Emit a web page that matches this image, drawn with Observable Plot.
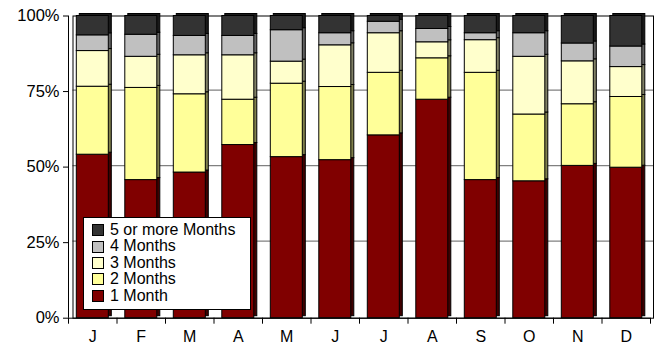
<!DOCTYPE html>
<html><head><meta charset="utf-8">
<script src="https://cdn.jsdelivr.net/npm/d3@7"></script>
<script src="https://cdn.jsdelivr.net/npm/@observablehq/plot@0.6"></script>
<style>
body{margin:0;background:#fff;}
#wrap{position:relative;width:660px;height:346px;font-family:"Liberation Sans",Arial,sans-serif;}
#legend{position:absolute;left:83px;top:217px;width:168px;height:93px;border:1px solid #000;background:#fff;padding:4px 0 0 8px;box-sizing:border-box;}
.item{display:flex;align-items:center;height:16.4px;line-height:16.4px;font-size:16px;color:#000;white-space:nowrap;}
.sw{width:10px;height:10px;border:1px solid #000;margin-right:6px;flex:none;}
</style>
</head><body>
<div id="wrap"></div>
<script>
const months = ["J","F","M","A","M","J","J","A","S","O","N","D"];
const seriesNames = ["1 Month","2 Months","3 Months","4 Months","5 or more Months"];
const oneMonth   = [54.1,45.7,48.2,57.3,53.3,52.3,60.5,72.3,45.7,45.3,50.4,49.8];
const twoMonths  = [22.5,30.5,25.9,15.0,24.3,24.2,20.7,13.7,35.5,22.1,20.4,23.4];
const threeMonths= [11.8,10.3,12.9,14.7, 7.3,13.8,13.1, 5.3,10.8,19.1,14.2, 9.9];
const fourMonths = [ 5.2, 7.3, 6.4, 6.4,10.4, 4.0, 3.8, 4.4, 2.3, 7.8, 5.9, 6.8];
const fivePlus   = [ 6.4, 6.2, 6.6, 6.6, 4.7, 5.7, 1.9, 4.3, 5.7, 5.7, 9.1,10.1];
const yTicks = [0,25,50,75,100];

const frontColors = ["#800000","#ffff99","#ffffcc","#c0c0c0","#333333"];
const sideColors  = ["#400000","#80804c","#808066","#606060","#1a1a1a"];

const allSeries = [oneMonth,twoMonths,threeMonths,fourMonths,fivePlus];
const rows = [];
months.forEach((m,i)=>{
  let acc = 0;
  allSeries.forEach((s,k)=>{
    rows.push({i, month:m, series:seriesNames[k], k, y1:acc, y2:acc+s[i]});
    acc += s[i];
  });
});
const idx = d3.range(13);

const chart = Plot.plot({
  width:660, height:346,
  marginTop:15.5, marginBottom:28.3, marginLeft:68, marginRight:10,
  style:{fontFamily:'"Liberation Sans",Arial,sans-serif', fontSize:"16px", color:"#000", background:"#fff"},
  x:{type:"linear", domain:[0,12], axis:null, label:null},
  y:{domain:[0,100], axis:null, label:null},
  marks:[
    Plot.ruleY([25,50,75], {stroke:"#808080", strokeWidth:1.2, dy:-1.5, insetLeft:4.5, insetRight:-3}),
    Plot.frame({stroke:"#000", insetLeft:4.5, insetRight:-3}),
    Plot.rect(rows, {x1:"i", x2:d=>d.i+1, y1:"y1", y2:"y2", fill:d=>sideColors[d.k], stroke:"#000", strokeWidth:1, insetLeft:8.3, insetRight:8.2, dx:3, dy:-2}),
    Plot.rect(rows, {x1:"i", x2:d=>d.i+1, y1:"y1", y2:"y2", fill:d=>frontColors[d.k], stroke:"#000", strokeWidth:1, insetLeft:8.3, insetRight:8.2}),
    Plot.ruleX([0], {stroke:"#000", strokeWidth:1}),
    Plot.ruleY([0], {stroke:"#000", strokeWidth:1}),
    Plot.axisY({ticks:yTicks, tickFormat:d=>d+"%", tickSize:5, tickPadding:4, fontSize:16.5, stroke:"#000", label:null}),
    Plot.axisX({ticks:idx, tickFormat:()=>"", tickSize:6, stroke:"#000", label:null}),
    Plot.axisX({ticks:d3.range(12).map(i=>i+0.5), tickFormat:d=>months[Math.floor(d)], tickSize:0, tickPadding:12, fontSize:16, label:null})
  ]
});
const wrap = document.getElementById("wrap");
wrap.appendChild(chart);

const legend = document.createElement("div");
legend.id = "legend";
const order = [4,3,2,1,0];
order.forEach(k=>{
  const it = document.createElement("div");
  it.className="item";
  const sw = document.createElement("span");
  sw.className="sw"; sw.style.background = frontColors[k];
  it.appendChild(sw);
  it.appendChild(document.createTextNode(seriesNames[k]));
  legend.appendChild(it);
});
wrap.appendChild(legend);
</script>
</body></html>
